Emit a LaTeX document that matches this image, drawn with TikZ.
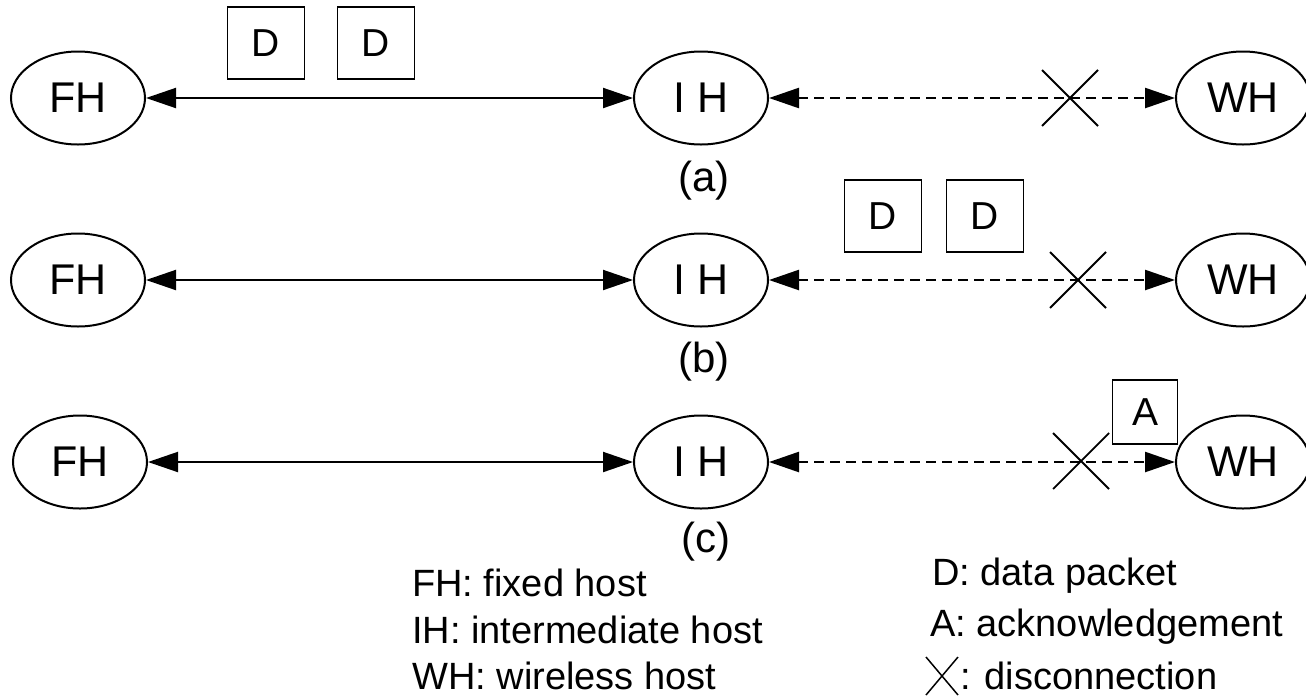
\documentclass[tikz,border=0pt]{standalone}
\usepackage{fontspec}
\setmainfont{Liberation Sans}
\usetikzlibrary{shapes.geometric,arrows.meta}
\tikzset{
  host/.style={draw,ellipse,line width=2pt,minimum width=134pt,minimum height=93pt,inner sep=0pt,font=\fontsize{43}{43}\selectfont},
  pkt/.style={draw,line width=1.8pt,minimum width=77pt,minimum height=72pt,inner sep=0pt,font=\fontsize{39}{39}\selectfont},
  link/.style={line width=2pt,{Triangle[length=30pt,width=20pt]}-{Triangle[length=30pt,width=20pt]}},
  lost/.style={link,line width=2.4pt,dash pattern=on 10pt off 6pt},
  cut/.style={line width=1.8pt},
  caption/.style={font=\fontsize{42}{42}\selectfont},
  keytext/.style={anchor=base west,inner sep=0pt,font=\fontsize{38}{38}\selectfont}
}
\begin{document}
\begin{tikzpicture}[x=1pt,y=-1pt]
      \useasboundingbox (0,0) rectangle (1306,697);
      \draw
        (78,98) node[host] (fha){FH}
        (701,98) node[host] (iha){I H}
        (1243,98) node[host] (wha){WH}
        (78,280) node[host] (fhb){FH}
        (701,280) node[host] (ihb){I H}
        (1243,280) node[host] (whb){WH}
        (80,462) node[host] (fhc){FH}
        (701,462) node[host] (ihc){I H}
        (1243,462) node[host] (whc){WH};
      \draw
        (266,43) node[pkt] (d1){D}
        (376,43) node[pkt] (d2){D}
        (883,216) node[pkt] (d3){D}
        (985,216) node[pkt] (d4){D}
        (1145,412) node[pkt,minimum width=65pt,minimum height=64pt] (ack){A};
      \draw
        (704,181) node[caption] (capa){(a)}
        (704,362) node[caption] (capb){(b)}
        (706,542) node[caption] (capc){(c)};
      \coordinate (xa) at (1070,98);
      \coordinate (xb) at (1078,280);
      \coordinate (xc) at (1081,461);
      \begin{scope}[-]
        \draw[link] (fha) to (iha);
        \draw[link] (fhb) to (ihb);
        \draw[link] (fhc) to (ihc);
        \draw[lost] (iha) to (wha);
        \draw[lost] (ihb) to (whb);
        \draw[lost] (ihc) to (whc);
      \end{scope}
      \foreach \c in {xa,xb,xc}
        \draw[cut,shift={(\c)}] (-28,-28) -- (28,28) (-28,28) -- (28,-28);
      % legend
      \node[keytext] (kfh) at (412,596) {FH: fixed host};
      \node[keytext] (kih) at (412,643) {IH: intermediate host};
      \node[keytext] (kwh) at (412,689) {WH: wireless host};
      \node[keytext] (kd) at (932,585) {D: data packet};
      \node[keytext] (ka) at (930,636) {A: acknowledgement};
      \coordinate (kx) at (942,676);
      \draw[line width=1.5pt,shift={(kx)}] (-16,-19) -- (16,19) (-16,19) -- (16,-19);
      \node[keytext] (kdis) at (960,689) {: disconnection};
    \end{tikzpicture}
\end{document}
